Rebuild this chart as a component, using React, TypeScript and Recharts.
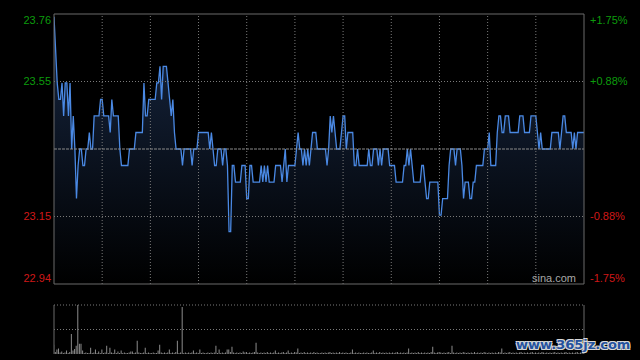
import { Area, AreaChart, Bar, BarChart, ReferenceLine, XAxis, YAxis } from 'recharts'

const preClose = 23.35
const pctRange = 1.75
const pctTicks = [-1.75, -0.875, 0, 0.875, 1.75]
const priceLabels = ['22.94', '23.15', '23.35', '23.55', '23.76']
const pctLabels = ['-1.75%', '-0.88%', '0.00%', '+0.88%', '+1.75%']
const gridMinutes = [30, 60, 90, 120, 150, 180, 210, 240, 270, 300]
const lastMinute = 330

// one price per trading minute (09:30-12:00, 13:00-16:00)
const prices = [
  23.75, 23.65, 23.55, 23.5, 23.5, 23.55, 23.45, 23.55, 23.55, 23.45,
  23.55, 23.35, 23.45, 23.35, 23.2, 23.3, 23.35, 23.35, 23.3, 23.3,
  23.35, 23.35, 23.4, 23.35, 23.35, 23.45, 23.45, 23.45, 23.45, 23.5,
  23.5, 23.45, 23.45, 23.45, 23.45, 23.4, 23.5, 23.45, 23.45, 23.45,
  23.45, 23.35, 23.3, 23.3, 23.3, 23.3, 23.3, 23.35, 23.35, 23.35,
  23.35, 23.4, 23.4, 23.4, 23.4, 23.4, 23.55, 23.45, 23.45, 23.5,
  23.5, 23.5, 23.5, 23.5, 23.55, 23.55, 23.6, 23.5, 23.6, 23.6,
  23.6, 23.55, 23.5, 23.45, 23.5, 23.4, 23.35, 23.35, 23.35, 23.35,
  23.3, 23.35, 23.35, 23.35, 23.35, 23.35, 23.3, 23.35, 23.35, 23.35,
  23.4, 23.4, 23.4, 23.4, 23.4, 23.4, 23.4, 23.35, 23.4, 23.35,
  23.3, 23.3, 23.35, 23.35, 23.35, 23.3, 23.35, 23.35, 23.3, 23.1,
  23.1, 23.3, 23.3, 23.25, 23.25, 23.25, 23.25, 23.3, 23.3, 23.3,
  23.2, 23.2, 23.3, 23.3, 23.25, 23.25, 23.25, 23.25, 23.25, 23.3,
  23.25, 23.3, 23.25, 23.3, 23.25, 23.25, 23.25, 23.25, 23.3, 23.3,
  23.3, 23.3, 23.25, 23.3, 23.35, 23.25, 23.3, 23.3, 23.3, 23.3,
  23.3, 23.35, 23.4, 23.35, 23.35, 23.3, 23.35, 23.3, 23.35, 23.3,
  23.35, 23.4, 23.4, 23.4, 23.35, 23.35, 23.35, 23.35, 23.35, 23.35,
  23.3, 23.35, 23.45, 23.4, 23.45, 23.4, 23.35, 23.35, 23.35, 23.4,
  23.45, 23.45, 23.35, 23.4, 23.4, 23.4, 23.4, 23.3, 23.3, 23.35,
  23.3, 23.3, 23.3, 23.3, 23.3, 23.3, 23.35, 23.3, 23.3, 23.35,
  23.35, 23.35, 23.3, 23.35, 23.3, 23.35, 23.35, 23.35, 23.35, 23.3,
  23.3, 23.3, 23.3, 23.25, 23.25, 23.25, 23.25, 23.25, 23.3, 23.3,
  23.35, 23.3, 23.35, 23.3, 23.25, 23.25, 23.25, 23.25, 23.25, 23.3,
  23.3, 23.25, 23.2, 23.2, 23.25, 23.25, 23.25, 23.25, 23.25, 23.25,
  23.15, 23.15, 23.2, 23.2, 23.2, 23.2, 23.3, 23.35, 23.35, 23.35,
  23.3, 23.35, 23.35, 23.35, 23.3, 23.2, 23.25, 23.25, 23.25, 23.2,
  23.2, 23.25, 23.25, 23.3, 23.3, 23.3, 23.3, 23.3, 23.35, 23.35,
  23.35, 23.4, 23.3, 23.3, 23.3, 23.3, 23.4, 23.45, 23.45, 23.4,
  23.4, 23.45, 23.45, 23.45, 23.4, 23.4, 23.4, 23.4, 23.4, 23.4,
  23.45, 23.45, 23.45, 23.4, 23.4, 23.4, 23.4, 23.45, 23.45, 23.45,
  23.45, 23.4, 23.35, 23.4, 23.35, 23.35, 23.35, 23.35, 23.35, 23.35,
  23.4, 23.4, 23.4, 23.4, 23.4, 23.35, 23.4, 23.45, 23.45, 23.4,
  23.4, 23.4, 23.4, 23.35, 23.4, 23.35, 23.4, 23.4, 23.4, 23.4,
  23.4,
]

// relative volume per minute, largest = 100
const volumes = [
  19, 4, 9, 11, 3, 5, 2, 3, 7, 2,
  4, 41, 7, 10, 17, 100, 21, 21, 7, 2,
  3, 2, 2, 13, 2, 3, 9, 2, 5, 2,
  9, 2, 3, 17, 2, 13, 3, 2, 9, 2,
  5, 2, 7, 2, 3, 2, 2, 3, 5, 5,
  2, 3, 27, 3, 2, 2, 3, 13, 2, 3,
  2, 2, 3, 2, 2, 7, 19, 3, 2, 3,
  2, 3, 9, 2, 3, 2, 4, 27, 2, 3,
  96, 2, 3, 2, 3, 2, 3, 7, 2, 3,
  2, 9, 2, 3, 2, 2, 3, 2, 3, 2,
  3, 17, 2, 9, 2, 3, 2, 3, 9, 9,
  4, 15, 3, 2, 3, 2, 3, 2, 5, 3,
  4, 2, 3, 2, 3, 4, 23, 3, 2, 3,
  2, 3, 2, 4, 2, 3, 2, 3, 7, 2,
  3, 2, 3, 4, 2, 3, 7, 2, 3, 2,
  4, 3, 11, 2, 3, 2, 4, 2, 3, 2,
  3, 2, 4, 2, 3, 2, 2, 3, 2, 3,
  2, 3, 4, 2, 3, 2, 3, 2, 4, 2,
  3, 2, 3, 2, 2, 3, 9, 2, 3, 2,
  3, 2, 2, 3, 2, 3, 2, 2, 3, 7,
  2, 3, 2, 4, 2, 3, 2, 3, 2, 3,
  2, 3, 2, 3, 4, 2, 3, 2, 3, 2,
  3, 11, 2, 3, 2, 3, 2, 4, 2, 3,
  2, 3, 2, 3, 2, 4, 15, 3, 2, 3,
  4, 3, 2, 3, 2, 3, 4, 2, 17, 3,
  2, 3, 2, 3, 2, 4, 3, 2, 3, 2,
  3, 2, 4, 2, 3, 2, 3, 2, 4, 3,
  2, 3, 2, 3, 2, 3, 2, 4, 3, 11,
  2, 3, 2, 3, 4, 2, 3, 2, 3, 2,
  3, 4, 2, 3, 2, 3, 2, 3, 4, 2,
  3, 2, 3, 2, 4, 3, 2, 3, 2, 3,
  2, 3, 4, 2, 3, 2, 3, 2, 3, 4,
  2, 3, 2, 3, 2, 3, 4, 2, 3, 2,
  3,
]

const fontFamily = "Arial, 'Liberation Sans', sans-serif"
const green = '#0c9c0c'
const red = '#d01818'
const borderColor = '#6a6a6a'
const gridColor = '#7a7a7a'

const priceDomain = [preClose * (1 - pctRange / 100), preClose * (1 + pctRange / 100)]
const priceTicks = pctTicks.map((p) => preClose * (1 + p / 100))

function tickIndex(value: number) {
  let best = 0
  priceTicks.forEach((t, i) => {
    if (Math.abs(t - value) < Math.abs(priceTicks[best] - value)) best = i
  })
  return best
}

function AxisTick({ y, payload, side }: { y?: number; payload?: { value: number }; side: 'left' | 'right' }) {
  const i = tickIndex(payload?.value ?? 0)
  if (i === 2) return <g />
  const shift = i === 0 ? -6 : i === priceTicks.length - 1 ? 6 : 0
  const color = i < 2 ? red : green
  return (
    <text
      x={side === 'left' ? 51 : 590}
      y={(y ?? 0) + shift}
      dy="0.36em"
      textAnchor={side === 'left' ? 'end' : 'start'}
      fill={color}
      fontSize={11}
      fontFamily={fontFamily}
    >
      {side === 'left' ? priceLabels[i] : pctLabels[i]}
    </text>
  )
}

export default function App() {
  const priceData = prices.map((price, minute) => ({ minute, price }))
  const volumeData = volumes.map((volume, minute) => ({ minute, volume }))

  return (
    <div style={{ position: 'relative', width: 640, height: 360, background: '#000', fontFamily, overflow: 'hidden' }}>
      <style>{'body{margin:0;background:#000}'}</style>

      <AreaChart width={640} height={290} data={priceData} margin={{ top: 14, right: 0, bottom: 6, left: 0 }}>
        <defs>
          <linearGradient id="priceFill" x1="0" y1="0" x2="0" y2="1">
            <stop offset="0%" stopColor="#172742" />
            <stop offset="100%" stopColor="#000000" />
          </linearGradient>
        </defs>
        <XAxis dataKey="minute" type="number" domain={[0, lastMinute]} allowDataOverflow hide />
        <YAxis
          yAxisId="left"
          width={54}
          domain={priceDomain}
          allowDataOverflow
          ticks={priceTicks}
          interval={0}
          axisLine={false}
          tickLine={false}
          tick={<AxisTick side="left" />}
        />
        <YAxis
          yAxisId="right"
          orientation="right"
          width={56}
          domain={priceDomain}
          allowDataOverflow
          ticks={priceTicks}
          interval={0}
          axisLine={false}
          tickLine={false}
          tick={<AxisTick side="right" />}
        />
        {gridMinutes.map((m) => (
          <ReferenceLine key={m} yAxisId="left" x={m} stroke={gridColor} strokeDasharray="1 2" />
        ))}
        <ReferenceLine yAxisId="left" y={priceTicks[1]} stroke={gridColor} strokeDasharray="1 2" />
        <ReferenceLine yAxisId="left" y={priceTicks[3]} stroke={gridColor} strokeDasharray="1 2" />
        <Area
          yAxisId="left"
          type="linear"
          dataKey="price"
          stroke="#4a89e4"
          strokeWidth={1.3}
          fill="url(#priceFill)"
          fillOpacity={1}
          dot={false}
          activeDot={false}
          isAnimationActive={false}
        />
        <ReferenceLine yAxisId="left" y={priceTicks[2]} stroke="#8a8a8a" strokeDasharray="3 1" />
        <ReferenceLine yAxisId="left" y={priceTicks[4]} stroke={borderColor} />
        <ReferenceLine yAxisId="left" y={priceTicks[0]} stroke={borderColor} />
        <ReferenceLine yAxisId="left" x={0} stroke={borderColor} />
        <ReferenceLine yAxisId="left" x={lastMinute} stroke={borderColor} />
      </AreaChart>

      <BarChart width={640} height={70} data={volumeData} margin={{ top: 15, right: 56, bottom: 6, left: 54 }}>
        <XAxis dataKey="minute" type="number" domain={[0, lastMinute]} allowDataOverflow hide />
        <YAxis domain={[0, 100]} allowDataOverflow hide />
        <ReferenceLine y={100} stroke={gridColor} strokeDasharray="1 2" />
        <ReferenceLine y={50} stroke={gridColor} strokeDasharray="1 2" />
        <Bar dataKey="volume" fill="#8c8c8c" barSize={1} isAnimationActive={false} />
        <ReferenceLine x={0} stroke={borderColor} />
        <ReferenceLine x={lastMinute} stroke={borderColor} />
      </BarChart>

      <span style={{ position: 'absolute', left: 532, top: 272, fontSize: 11, lineHeight: '12px', color: '#a8a8a8' }}>sina.com</span>
      <span
        style={{
          position: 'absolute',
          left: 516,
          top: 337,
          fontSize: 13,
          lineHeight: '16px',
          fontWeight: 'bold',
          fontFamily: "'DejaVu Sans', sans-serif",
          color: '#25529e',
          textShadow: '1px 1px 0 #d8d8d8, -1px -1px 0 #d8d8d8, 1px -1px 0 #d8d8d8, -1px 1px 0 #d8d8d8',
        }}
      >
        www.365jz.com
      </span>
    </div>
  )
}
